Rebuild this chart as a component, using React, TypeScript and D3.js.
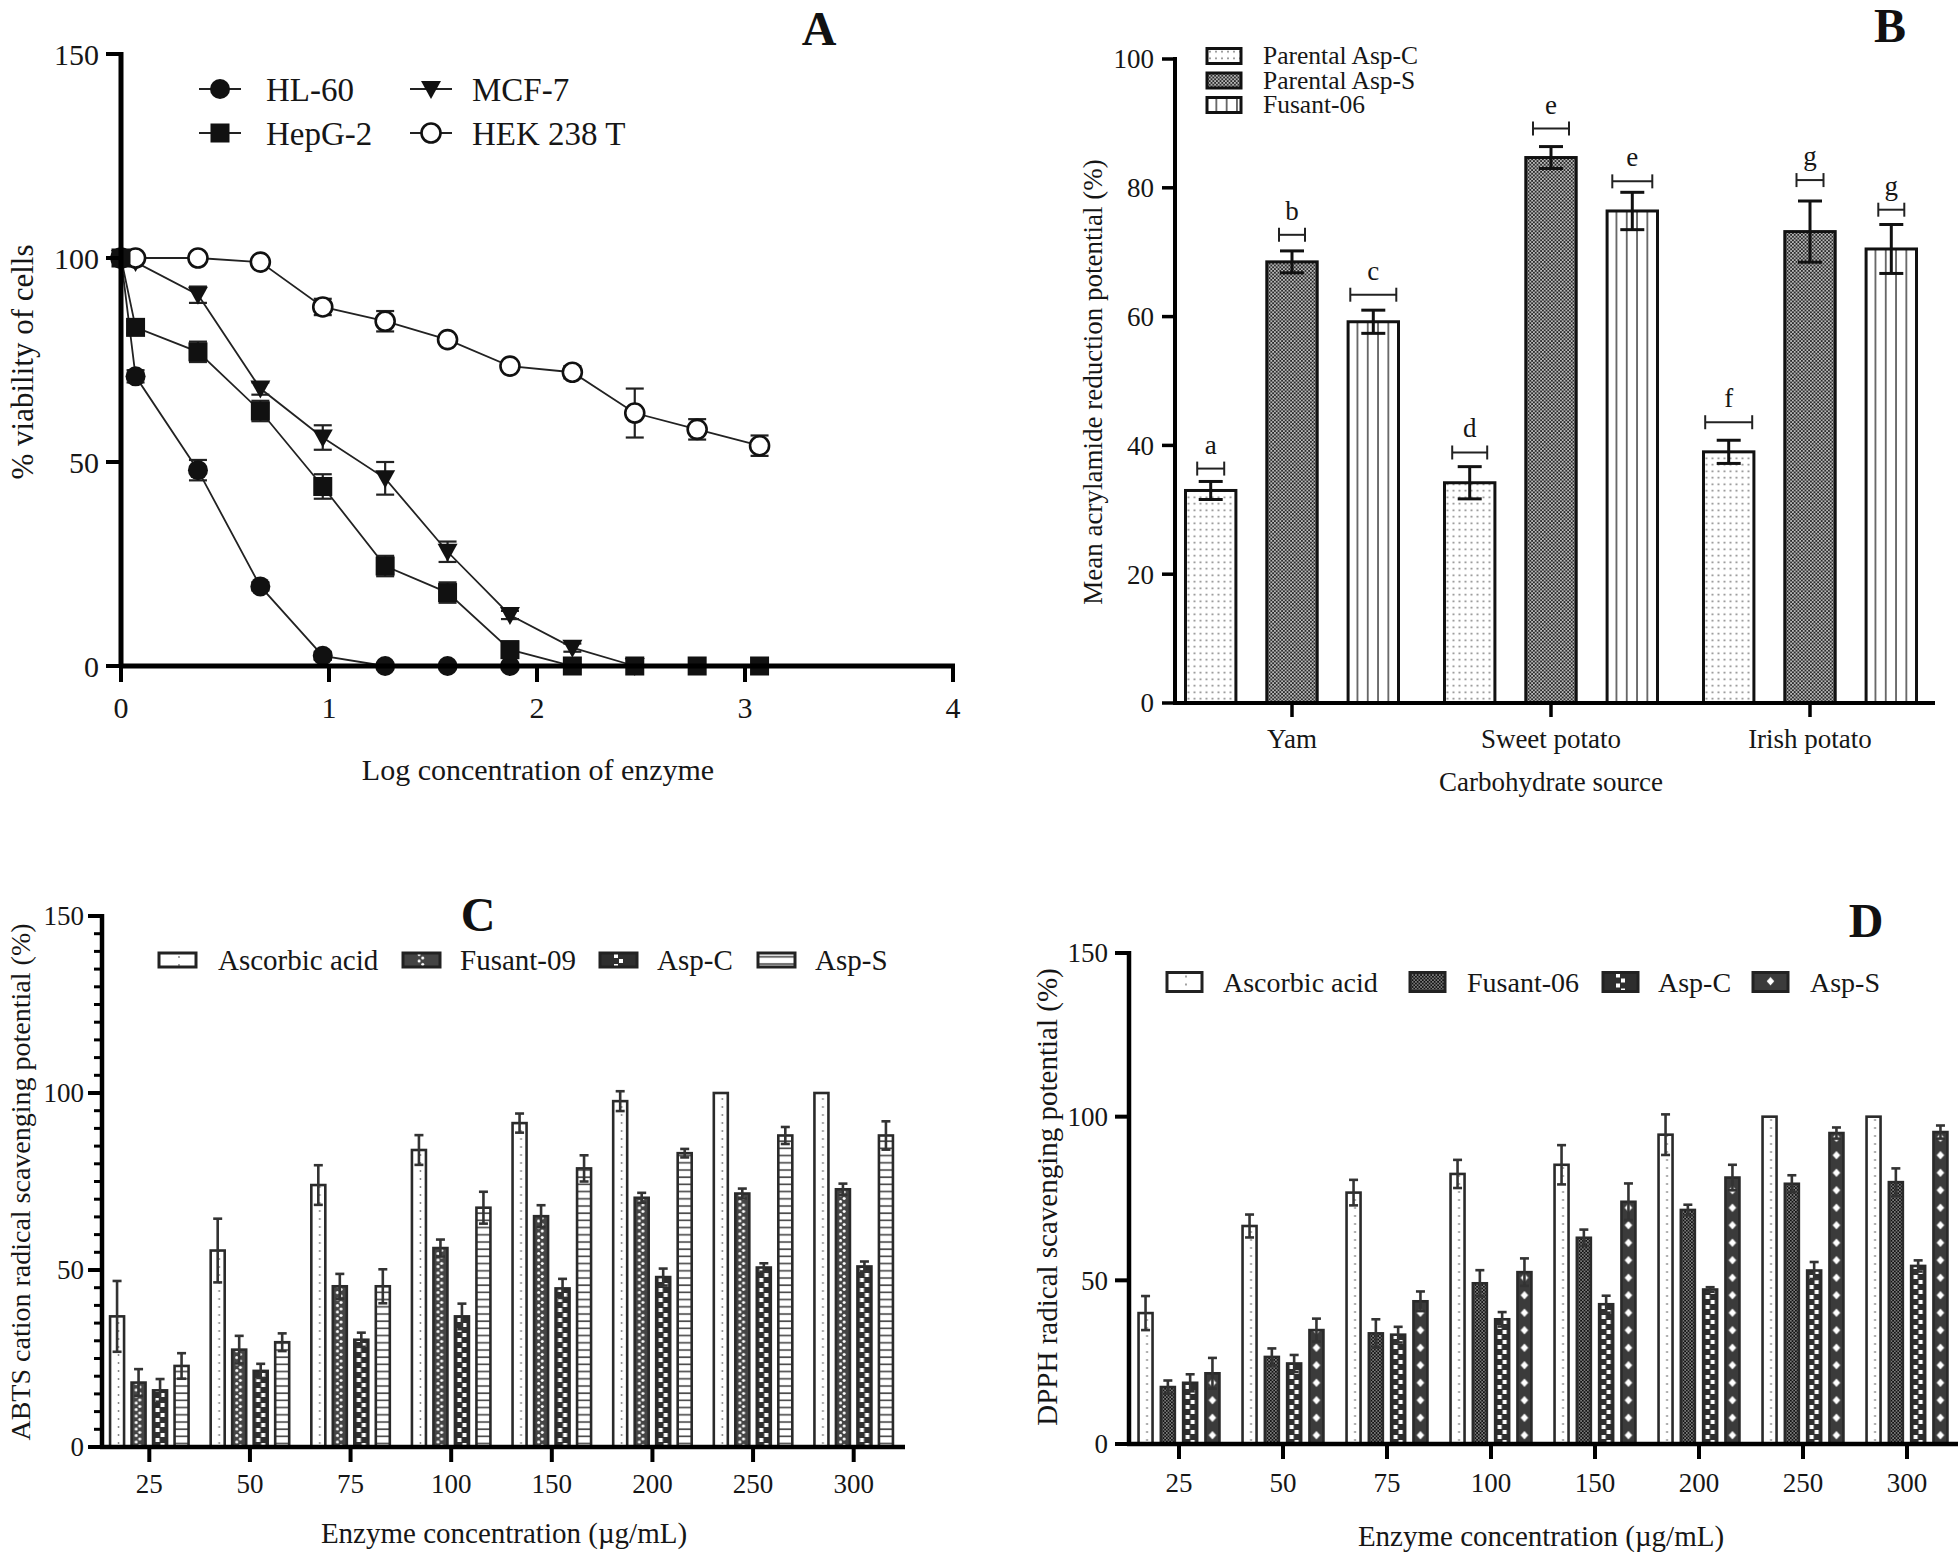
import React from 'react';
import * as d3 from 'd3';

const FONT = "'Liberation Serif', 'Times New Roman', Times, serif";
const W = 1960;
const H = 1552;
const TXT = '#161616';

// ---------------- Panel A data ----------------
const logConc = [0, 0.07, 0.37, 0.67, 0.97, 1.27, 1.57, 1.87, 2.17, 2.47, 2.77, 3.07];
const cellLines = ['HL-60', 'HepG-2', 'MCF-7', 'HEK 238 T'];
const hl60 = [100, 71, 48, 19.5, 2.5, 0, 0, 0];
const hl60Err = [0, 1.5, 2.5, 1, 1, 0, 0, 0];
const hepg2 = [100, 83, 77, 62.5, 44, 24.5, 18, 4, 0, 0, 0, 0];
const hepg2Err = [0, 1.5, 2.5, 2.5, 3, 2.5, 2.5, 2, 0.5, 0, 0, 0];
const mcf7 = [100, 99, 91, 68, 56, 46, 28, 12.5, 4.5, 0];
const mcf7Err = [0, 0, 2, 1.5, 3, 4, 2.5, 1, 1, 0];
const hek = [100, 100, 100, 99, 88, 84.5, 80, 73.5, 72, 62, 58, 54];
const hekErr = [0, 0, 0, 1, 2, 2.5, 1, 1, 1.5, 6, 2.5, 2.5];
const aYTicks = [0, 50, 100, 150];
const aXTicks = [0, 1, 2, 3, 4];

// ---------------- Panel B data ----------------
const carbSources = ['Yam', 'Sweet potato', 'Irish potato'];
const bSeriesNames = ['Parental Asp-C', 'Parental Asp-S', 'Fusant-06'];
const bAspC = [33, 34.2, 39];
const bAspCErr = [1.4, 2.5, 1.8];
const bAspS = [68.5, 84.7, 73.2];
const bAspSErr = [1.7, 1.7, 4.75];
const bFus = [59.2, 76.4, 70.5];
const bFusErr = [1.8, 2.9, 3.8];
const bAspCLetters = ['a', 'd', 'f'];
const bAspSLetters = ['b', 'e', 'g'];
const bFusLetters = ['c', 'e', 'g'];
const bAspCBracket = [36.4, 38.9, 43.6];
const bAspSBracket = [72.7, 89.2, 81.2];
const bFusBracket = [63.4, 81, 76.6];
const bYTicks = [0, 20, 40, 60, 80, 100];

// ---------------- Panels C & D data ----------------
const concentrations = ['25', '50', '75', '100', '150', '200', '250', '300'];
const cSeriesNames = ['Ascorbic acid', 'Fusant-09', 'Asp-C', 'Asp-S'];
const cAsc = [36.9, 55.5, 74, 83.9, 91.5, 97.7, 100, 100];
const cAscErr = [10, 9, 5.6, 4.2, 2.7, 2.8, 0, 0];
const cFus = [18.2, 27.5, 45.4, 56.2, 65.2, 70.4, 71.6, 72.8];
const cFusErr = [3.8, 3.9, 3.5, 2.4, 3.1, 1.4, 1.4, 1.6];
const cAspC = [16, 21.5, 30.3, 36.9, 44.8, 48, 50.7, 51];
const cAspCErr = [3.2, 2, 2, 3.6, 2.7, 2.4, 1.2, 1.4];
const cAspS = [22.9, 29.6, 45.4, 67.6, 78.7, 83, 88, 88];
const cAspSErr = [3.6, 2.5, 4.8, 4.5, 3.7, 1.2, 2.4, 4];

const dSeriesNames = ['Ascorbic acid', 'Fusant-06', 'Asp-C', 'Asp-S'];
const dAsc = [40, 66.6, 76.8, 82.5, 85.3, 94.5, 100, 100];
const dAscErr = [5.2, 3.5, 3.9, 4.3, 6, 6.2, 0, 0];
const dFus = [17.4, 26.6, 33.8, 49.1, 63, 71.5, 79.5, 80];
const dFusErr = [2, 2.6, 4.3, 4, 2.5, 1.6, 2.6, 4.2];
const dAspC = [18.7, 24.6, 33.4, 38.1, 42.7, 47.2, 53, 54.4];
const dAspCErr = [2.6, 2.6, 2.4, 2.2, 2.6, 0.7, 2.6, 1.7];
const dAspS = [21.6, 34.8, 43.6, 52.5, 74, 81.4, 95, 95.3];
const dAspSErr = [4.7, 3.5, 3, 4.2, 5.6, 3.9, 1.7, 2];
const cdYTicks = [0, 50, 100, 150];

// ---------------- Patterns ----------------
type Kind = 'dotsWide' | 'checkFine' | 'vlines' | 'dotsCol' | 'circles' | 'squares' | 'hlines' | 'diamonds' | 'checkBlack';

function Pat({ id, kind, x, y, w }: { id: string; kind: Kind; x: number; y: number; w: number }) {
  const common = { id, patternUnits: 'userSpaceOnUse' as const, x, y };
  switch (kind) {
    case 'dotsWide':
      return (
        <pattern {...common} width={6} height={6.5}>
          <rect width={6} height={6.5} fill="#fff" />
          <circle cx={3} cy={3.25} r={0.95} fill="#777" />
        </pattern>
      );
    case 'checkFine':
      return (
        <pattern {...common} width={3.6} height={3.6}>
          <rect width={3.6} height={3.6} fill="#2a2a2a" />
          <circle cx={0.9} cy={0.9} r={0.8} fill="#fff" />
          <circle cx={2.7} cy={2.7} r={0.8} fill="#fff" />
        </pattern>
      );
    case 'checkBlack':
      return (
        <pattern {...common} width={3.4} height={3.4}>
          <rect width={3.4} height={3.4} fill="#111" />
          <circle cx={0.85} cy={0.85} r={0.7} fill="#fff" />
          <circle cx={2.55} cy={2.55} r={0.7} fill="#fff" />
        </pattern>
      );
    case 'vlines':
      return (
        <pattern {...common} width={10.3} height={10}>
          <rect width={10.3} height={10} fill="#fff" />
          <rect x={8.6} width={1.5} height={10} fill="#444" />
        </pattern>
      );
    case 'dotsCol':
      return (
        <pattern {...common} width={w} height={8}>
          <rect width={w} height={8} fill="#fff" />
          <circle cx={w / 2 + 1.5} cy={4} r={0.9} fill="#777" />
        </pattern>
      );
    case 'circles':
      return (
        <pattern {...common} width={w} height={6.5}>
          <rect width={w} height={6.5} fill="#444" />
          <circle cx={w / 2 - 2.4} cy={1.6} r={1.5} fill="#fff" />
          <circle cx={w / 2 + 1.2} cy={4.9} r={1.5} fill="#fff" />
        </pattern>
      );
    case 'squares':
      return (
        <pattern {...common} width={w} height={10}>
          <rect width={w} height={10} fill="#2e2e2e" />
          <rect x={w / 2 - 4.5} y={1} width={4} height={4} fill="#fff" />
          <rect x={w / 2 + 0.5} y={6} width={4} height={4} fill="#fff" />
        </pattern>
      );
    case 'hlines':
      return (
        <pattern {...common} width={w} height={7.2}>
          <rect width={w} height={7.2} fill="#fff" />
          <rect y={3} width={w} height={1.6} fill="#444" />
        </pattern>
      );
    case 'diamonds':
      return (
        <pattern {...common} width={w} height={17.5}>
          <rect width={w} height={17.5} fill="#3b3b3b" />
          <polygon
            points={`${w / 2},4.5 ${w / 2 + 3.8},8.8 ${w / 2},13 ${w / 2 - 3.8},8.8`}
            fill="#fff"
          />
        </pattern>
      );
  }
  return null;
}

// ---------------- Panel A ----------------
function Marker({ shape, x, y }: { shape: string; x: number; y: number }) {
  if (shape === 'circle') return <circle cx={x} cy={y} r={10} fill="#111" />;
  if (shape === 'square') return <rect x={x - 9.5} y={y - 9.5} width={19} height={19} fill="#111" />;
  if (shape === 'tri')
    return <path d={`M${x - 10},${y - 8}L${x + 10},${y - 8}L${x},${y + 10}Z`} fill="#111" />;
  return <circle cx={x} cy={y} r={9.5} fill="#fff" stroke="#111" strokeWidth={2.6} />;
}

function PanelA() {
  const x = d3.scaleLinear().domain([0, 4]).range([121, 953]);
  const y = d3.scaleLinear().domain([0, 150]).range([666, 54]);
  const series = [
    { name: cellLines[0], values: hl60, err: hl60Err, shape: 'circle' },
    { name: cellLines[2], values: mcf7, err: mcf7Err, shape: 'tri' },
    { name: cellLines[3], values: hek, err: hekErr, shape: 'open' },
    { name: cellLines[1], values: hepg2, err: hepg2Err, shape: 'square' },
  ];
  const line = d3
    .line<number>()
    .x((_, i) => x(logConc[i]))
    .y((d) => y(d));
  const legend = [
    { name: cellLines[0], shape: 'circle', mx: 220, my: 89, tx: 266 },
    { name: cellLines[1], shape: 'square', mx: 220, my: 133, tx: 266 },
    { name: cellLines[2], shape: 'tri', mx: 431, my: 89, tx: 472 },
    { name: cellLines[3], shape: 'open', mx: 431, my: 133, tx: 472 },
  ];
  return (
    <g>
      {series.map((s) => (
        <path key={s.name} d={line(s.values) || ''} fill="none" stroke="#222" strokeWidth={1.8} />
      ))}
      {series.map((s) =>
        s.values.map((v, i) =>
          s.err[i] > 0 ? (
            <g key={s.name + i} stroke="#222" strokeWidth={2.2}>
              <line x1={x(logConc[i])} x2={x(logConc[i])} y1={y(v - s.err[i])} y2={y(v + s.err[i])} />
              <line x1={x(logConc[i]) - 9} x2={x(logConc[i]) + 9} y1={y(v + s.err[i])} y2={y(v + s.err[i])} />
              <line x1={x(logConc[i]) - 9} x2={x(logConc[i]) + 9} y1={y(v - s.err[i])} y2={y(v - s.err[i])} />
            </g>
          ) : null
        )
      )}
      {series.map((s) =>
        s.values.map((v, i) => <Marker key={s.name + 'm' + i} shape={s.shape} x={x(logConc[i])} y={y(v)} />)
      )}
      <line x1={x(0)} x2={x(0)} y1={y(150) - 2} y2={y(0) + 2} stroke="#000" strokeWidth={5} />
      <line x1={x(0) - 2} x2={x(4) + 2} y1={y(0)} y2={y(0)} stroke="#000" strokeWidth={5} />
      {aYTicks.map((t) => (
        <g key={'ay' + t}>
          <line x1={x(0) - 15} x2={x(0)} y1={y(t)} y2={y(t)} stroke="#000" strokeWidth={4} />
          <text x={99} y={y(t)} dy="0.35em" textAnchor="end" fontSize={30} fill={TXT}>
            {t}
          </text>
        </g>
      ))}
      {aXTicks.map((t) => (
        <g key={'ax' + t}>
          <line x1={x(t)} x2={x(t)} y1={y(0)} y2={y(0) + 16} stroke="#000" strokeWidth={4} />
          <text x={x(t)} y={718} textAnchor="middle" fontSize={30} fill={TXT}>
            {t}
          </text>
        </g>
      ))}
      <text x={538} y={780} textAnchor="middle" fontSize={30} fill={TXT}>
        Log concentration of enzyme
      </text>
      <text
        transform="translate(22,362) rotate(-90)"
        textAnchor="middle"
        dominantBaseline="central"
        fontSize={31}
        fill={TXT}
      >
        % viability of cells
      </text>
      {legend.map((l) => (
        <g key={'lg' + l.name}>
          <line x1={l.mx - 21} x2={l.mx + 21} y1={l.my} y2={l.my} stroke="#222" strokeWidth={2} />
          <Marker shape={l.shape} x={l.mx} y={l.my} />
          <text x={l.tx} y={l.my + 12} fontSize={33} fill={TXT}>
            {l.name}
          </text>
        </g>
      ))}
      <text x={819} y={45} textAnchor="middle" fontSize={48} fontWeight="bold" fill="#111">
        A
      </text>
    </g>
  );
}

// ---------------- Panel B ----------------
const B_BRACKET_W = [
  [27, 35, 47],
  [26, 36, 27],
  [46, 40, 26],
];

function PanelB() {
  const x = d3.scaleBand<string>().domain(carbSources).range([1162.5, 1939.5]);
  const y = d3.scaleLinear().domain([0, 100]).range([703, 59]);
  const sub = d3.scaleBand<string>().domain(bSeriesNames).range([-106.5, 106.5]).paddingInner(0.38).paddingOuter(0);
  const series = [
    { name: bSeriesNames[0], values: bAspC, err: bAspCErr, letters: bAspCLetters, bracket: bAspCBracket, kind: 'dotsWide' as Kind },
    { name: bSeriesNames[1], values: bAspS, err: bAspSErr, letters: bAspSLetters, bracket: bAspSBracket, kind: 'checkFine' as Kind },
    { name: bSeriesNames[2], values: bFus, err: bFusErr, letters: bFusLetters, bracket: bFusBracket, kind: 'vlines' as Kind },
  ];
  const bw = sub.bandwidth();
  const cx = (g: string) => (x(g) as number) + x.bandwidth() / 2;
  const legendRows = [56, 80.5, 105];
  return (
    <g>
      <defs>
        {series.map((s, si) =>
          s.values.map((_, i) => (
            <Pat key={'pb' + si + i} id={`pb-${si}-${i}`} kind={s.kind} x={cx(carbSources[i]) + (sub(s.name) as number)} y={0} w={bw} />
          ))
        )}
        {series.map((s, si) => (
          <Pat key={'pbl' + si} id={`pbl-${si}`} kind={s.kind} x={1207} y={legendRows[si] - 7.5} w={34} />
        ))}
      </defs>
      {series.map((s, si) =>
        s.values.map((v, i) => {
          const bx = cx(carbSources[i]) + (sub(s.name) as number);
          const mx = bx + bw / 2;
          const e = s.err[i];
          const by = y(s.bracket[i]);
          const hw = B_BRACKET_W[si][i] / 2;
          return (
            <g key={'bb' + si + i}>
              <rect x={bx} y={y(v)} width={bw} height={y(0) - y(v)} fill={`url(#pb-${si}-${i})`} stroke="#111" strokeWidth={3} />
              <g stroke="#111" strokeWidth={3}>
                <line x1={mx} x2={mx} y1={y(v - e)} y2={y(v + e)} />
                <line x1={mx - 12} x2={mx + 12} y1={y(v + e)} y2={y(v + e)} />
                <line x1={mx - 12} x2={mx + 12} y1={y(v - e)} y2={y(v - e)} />
              </g>
              <g stroke="#222" strokeWidth={2}>
                <line x1={mx - hw} x2={mx + hw} y1={by} y2={by} />
                <line x1={mx - hw} x2={mx - hw} y1={by - 7} y2={by + 7} />
                <line x1={mx + hw} x2={mx + hw} y1={by - 7} y2={by + 7} />
              </g>
              <text x={mx} y={by - 15} textAnchor="middle" fontSize={27} fill={TXT}>
                {s.letters[i]}
              </text>
            </g>
          );
        })
      )}
      <line x1={1175} x2={1175} y1={y(100) - 2} y2={y(0) + 2} stroke="#000" strokeWidth={4} />
      <line x1={1173} x2={1935} y1={y(0)} y2={y(0)} stroke="#000" strokeWidth={4} />
      {bYTicks.map((t) => (
        <g key={'by' + t}>
          <line x1={1162} x2={1175} y1={y(t)} y2={y(t)} stroke="#000" strokeWidth={3.5} />
          <text x={1154} y={y(t)} dy="0.35em" textAnchor="end" fontSize={27} fill={TXT}>
            {t}
          </text>
        </g>
      ))}
      {carbSources.map((c) => (
        <g key={'bx' + c}>
          <line x1={cx(c)} x2={cx(c)} y1={y(0)} y2={y(0) + 14} stroke="#000" strokeWidth={3.5} />
          <text x={cx(c)} y={748} textAnchor="middle" fontSize={27} fill={TXT}>
            {c}
          </text>
        </g>
      ))}
      <text x={1551} y={791} textAnchor="middle" fontSize={27} fill={TXT}>
        Carbohydrate source
      </text>
      <text
        transform="translate(1093,382) rotate(-90)"
        textAnchor="middle"
        dominantBaseline="central"
        fontSize={27}
        fill={TXT}
      >
        Mean acrylamide reduction potential (%)
      </text>
      {series.map((s, si) => (
        <g key={'bl' + si}>
          <rect x={1207} y={legendRows[si] - 7.5} width={34} height={15} fill={`url(#pbl-${si})`} stroke="#111" strokeWidth={3} />
          <text x={1263} y={legendRows[si] + 8} fontSize={25.5} fill={TXT}>
            {s.name}
          </text>
        </g>
      ))}
      <text x={1890} y={42} textAnchor="middle" fontSize={48} fontWeight="bold" fill="#111">
        B
      </text>
    </g>
  );
}

// ---------------- Panels C / D ----------------
type GCfg = {
  id: string;
  letter: string;
  letterX: number;
  letterY: number;
  names: string[];
  values: number[][];
  errs: number[][];
  kinds: Kind[];
  band: [number, number];
  axisX: number;
  axisEnd: number;
  yRange: [number, number];
  barStep: number;
  barW: number;
  minor: boolean;
  tickFont: number;
  labelRight: number;
  xLabelY: number;
  yTitle: string;
  yTitlePos: [number, number];
  yTitleFont: number;
  xTitlePos: [number, number];
  xTitleFont: number;
  legendY: number;
  legendBoxX: number[];
  legendTextX: number[];
  legendBoxW: number;
  legendBoxH: number;
  legendFont: number;
};

function GroupedPanel({ cfg }: { cfg: GCfg }) {
  const x = d3.scaleBand<string>().domain(concentrations).range(cfg.band);
  const y = d3.scaleLinear().domain([0, 150]).range(cfg.yRange);
  const sub = d3
    .scaleBand<string>()
    .domain(cfg.names)
    .range([-2 * cfg.barStep, 2 * cfg.barStep])
    .paddingInner(1 - cfg.barW / cfg.barStep)
    .paddingOuter((1 - cfg.barW / cfg.barStep) / 2);
  const bw = sub.bandwidth();
  const cx = (g: string) => (x(g) as number) + x.bandwidth() / 2;
  const minorTicks = cfg.minor ? d3.range(0, 151, 5).filter((t) => t % 50 !== 0) : [];
  const y0 = y(0);
  return (
    <g>
      <defs>
        {cfg.names.map((n, si) =>
          concentrations.map((c, i) => (
            <Pat key={cfg.id + si + i} id={`${cfg.id}-${si}-${i}`} kind={cfg.kinds[si]} x={cx(c) + (sub(n) as number)} y={y0} w={bw} />
          ))
        )}
        {cfg.names.map((n, si) => (
          <Pat
            key={cfg.id + 'l' + si}
            id={`${cfg.id}-l-${si}`}
            kind={cfg.kinds[si]}
            x={cfg.legendBoxX[si]}
            y={cfg.legendY - cfg.legendBoxH / 2}
            w={cfg.legendBoxW}
          />
        ))}
      </defs>
      {cfg.names.map((n, si) =>
        cfg.values[si].map((v, i) => {
          const bx = cx(concentrations[i]) + (sub(n) as number);
          const mx = bx + bw / 2;
          const e = cfg.errs[si][i];
          return (
            <g key={cfg.id + 'b' + si + i}>
              <rect x={bx} y={y(v)} width={bw} height={y0 - y(v)} fill={`url(#${cfg.id}-${si}-${i})`} stroke="#2a2a2a" strokeWidth={2.6} />
              {e > 0 ? (
                <g stroke="#333" strokeWidth={2.6}>
                  <line x1={mx} x2={mx} y1={y(v - e)} y2={y(v + e)} />
                  <line x1={mx - 4.5} x2={mx + 4.5} y1={y(v + e)} y2={y(v + e)} />
                  <line x1={mx - 4.5} x2={mx + 4.5} y1={y(v - e)} y2={y(v - e)} />
                </g>
              ) : null}
            </g>
          );
        })
      )}
      <line x1={cfg.axisX} x2={cfg.axisX} y1={y(150) - 2} y2={y0 + 2} stroke="#000" strokeWidth={4.5} />
      <line x1={cfg.axisX - 2} x2={cfg.axisEnd} y1={y0} y2={y0} stroke="#000" strokeWidth={4.5} />
      {cdYTicks.map((t) => (
        <g key={cfg.id + 'y' + t}>
          <line x1={cfg.axisX - 14} x2={cfg.axisX} y1={y(t)} y2={y(t)} stroke="#000" strokeWidth={4} />
          <text x={cfg.labelRight} y={y(t)} dy="0.35em" textAnchor="end" fontSize={cfg.tickFont} fill={TXT}>
            {t}
          </text>
        </g>
      ))}
      {minorTicks.map((t) => (
        <line key={cfg.id + 'm' + t} x1={cfg.axisX - 8} x2={cfg.axisX} y1={y(t)} y2={y(t)} stroke="#000" strokeWidth={3} />
      ))}
      {concentrations.map((c) => (
        <g key={cfg.id + 'x' + c}>
          <line x1={cx(c)} x2={cx(c)} y1={y0} y2={y0 + 15} stroke="#000" strokeWidth={4} />
          <text x={cx(c)} y={cfg.xLabelY} textAnchor="middle" fontSize={cfg.tickFont} fill={TXT}>
            {c}
          </text>
        </g>
      ))}
      <text x={cfg.xTitlePos[0]} y={cfg.xTitlePos[1]} textAnchor="middle" fontSize={cfg.xTitleFont} fill={TXT}>
        Enzyme concentration (µg/mL)
      </text>
      <text
        transform={`translate(${cfg.yTitlePos[0]},${cfg.yTitlePos[1]}) rotate(-90)`}
        textAnchor="middle"
        dominantBaseline="central"
        fontSize={cfg.yTitleFont}
        fill={TXT}
      >
        {cfg.yTitle}
      </text>
      {cfg.names.map((n, si) => (
        <g key={cfg.id + 'lg' + si}>
          <rect
            x={cfg.legendBoxX[si]}
            y={cfg.legendY - cfg.legendBoxH / 2}
            width={cfg.legendBoxW}
            height={cfg.legendBoxH}
            fill={`url(#${cfg.id}-l-${si})`}
            stroke="#222"
            strokeWidth={3}
          />
          <text x={cfg.legendTextX[si]} y={cfg.legendY} dy="0.35em" fontSize={cfg.legendFont} fill={TXT}>
            {n}
          </text>
        </g>
      ))}
      <text x={cfg.letterX} y={cfg.letterY} textAnchor="middle" fontSize={48} fontWeight="bold" fill="#111">
        {cfg.letter}
      </text>
    </g>
  );
}

const cfgC: GCfg = {
  id: 'pc',
  letter: 'C',
  letterX: 478,
  letterY: 931,
  names: cSeriesNames,
  values: [cAsc, cFus, cAspC, cAspS],
  errs: [cAscErr, cFusErr, cAspCErr, cAspSErr],
  kinds: ['dotsCol', 'circles', 'squares', 'hlines'],
  band: [99, 904],
  axisX: 102,
  axisEnd: 905,
  yRange: [1447, 916],
  barStep: 21.5,
  barW: 14,
  minor: true,
  tickFont: 27,
  labelRight: 84,
  xLabelY: 1493,
  yTitle: 'ABTS cation radical scavenging potential (%)',
  yTitlePos: [20, 1182],
  yTitleFont: 28,
  xTitlePos: [504, 1543],
  xTitleFont: 29,
  legendY: 960,
  legendBoxX: [159, 403, 600, 758],
  legendTextX: [218, 460, 657, 815],
  legendBoxW: 37,
  legendBoxH: 14,
  legendFont: 29,
};

const cfgD: GCfg = {
  id: 'pd',
  letter: 'D',
  letterX: 1866,
  letterY: 937,
  names: dSeriesNames,
  values: [dAsc, dFus, dAspC, dAspS],
  errs: [dAscErr, dFusErr, dAspCErr, dAspSErr],
  kinds: ['dotsCol', 'checkBlack', 'squares', 'diamonds'],
  band: [1127, 1959],
  axisX: 1129,
  axisEnd: 1958,
  yRange: [1444, 953],
  barStep: 22.3,
  barW: 14,
  minor: false,
  tickFont: 27,
  labelRight: 1108,
  xLabelY: 1492,
  yTitle: 'DPPH radical scavenging potential (%)',
  yTitlePos: [1047, 1197],
  yTitleFont: 29,
  xTitlePos: [1541, 1546],
  xTitleFont: 29,
  legendY: 982,
  legendBoxX: [1167, 1410, 1603, 1753],
  legendTextX: [1223, 1467, 1658, 1810],
  legendBoxW: 35,
  legendBoxH: 19,
  legendFont: 28,
};

export default function App() {
  return (
    <svg
      width={W}
      height={H}
      viewBox={`0 0 ${W} ${H}`}
      style={{ position: 'absolute', left: 0, top: 0, background: '#fff' }}
      fontFamily={FONT}
    >
      <rect width={W} height={H} fill="#fff" />
      <PanelA />
      <PanelB />
      <GroupedPanel cfg={cfgC} />
      <GroupedPanel cfg={cfgD} />
    </svg>
  );
}
